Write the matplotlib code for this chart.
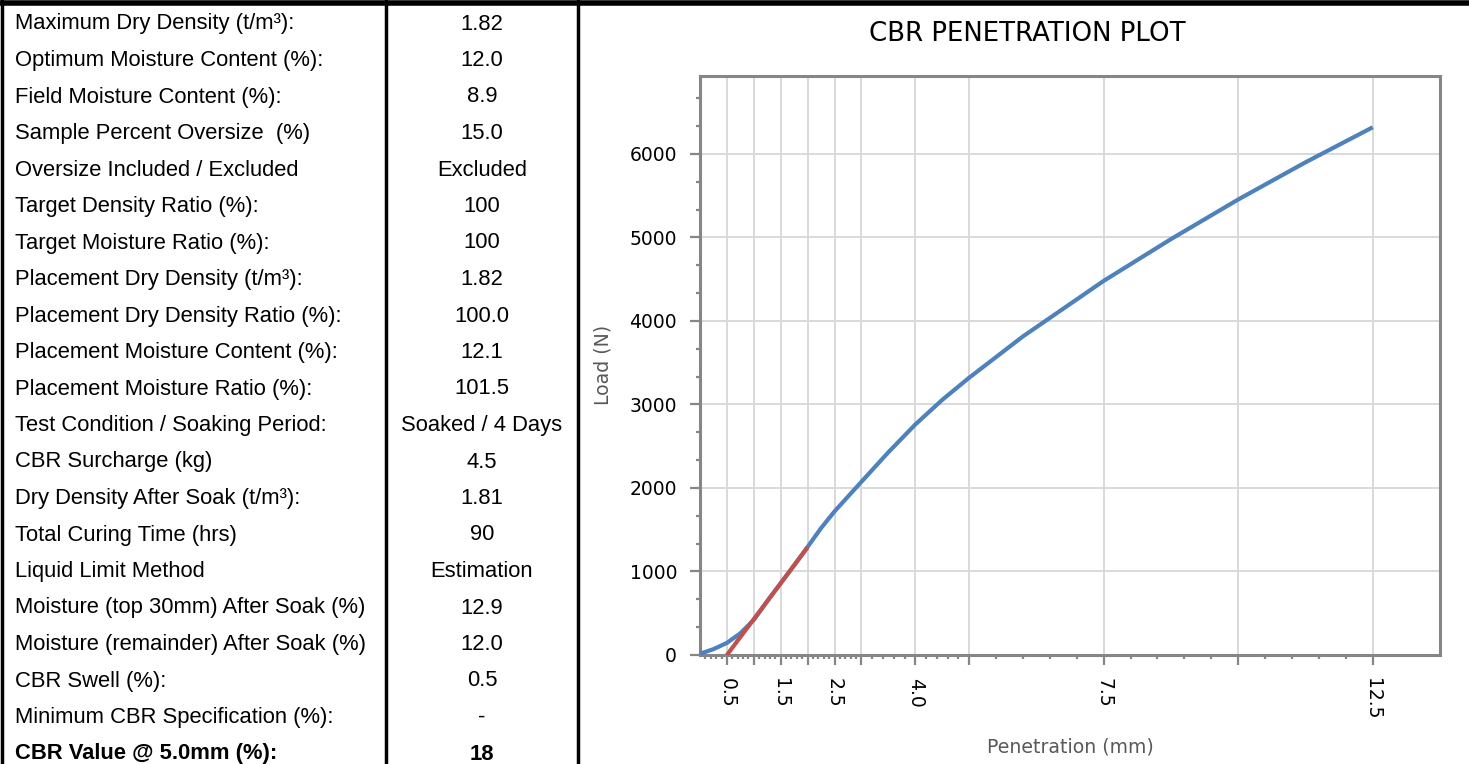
import numpy as np
import matplotlib
matplotlib.use('Agg')
import matplotlib.pyplot as plt
from matplotlib.lines import Line2D
from matplotlib.ticker import FixedLocator, FixedFormatter

# ==========================================
# DATOS
# ==========================================
row_labels = [
    "Maximum Dry Density (t/m³):",
    "Optimum Moisture Content (%):",
    "Field Moisture Content (%):",
    "Sample Percent Oversize  (%)",
    "Oversize Included / Excluded",
    "Target Density Ratio (%):",
    "Target Moisture Ratio (%):",
    "Placement Dry Density (t/m³):",
    "Placement Dry Density Ratio (%):",
    "Placement Moisture Content (%):",
    "Placement Moisture Ratio (%):",
    "Test Condition / Soaking Period:",
    "CBR Surcharge (kg)",
    "Dry Density After Soak (t/m³):",
    "Total Curing Time (hrs)",
    "Liquid Limit Method",
    "Moisture (top 30mm) After Soak (%)",
    "Moisture (remainder) After Soak (%)",
    "CBR Swell (%):",
    "Minimum CBR Specification (%):",
    "CBR Value @ 5.0mm (%):",
]
row_values = [
    "1.82", "12.0", "8.9", "15.0", "Excluded", "100", "100", "1.82", "100.0",
    "12.1", "101.5", "Soaked / 4 Days", "4.5", "1.81", "90", "Estimation",
    "12.9", "12.0", "0.5", "-", "18",
]

penetration = [0.0, 0.25, 0.5, 0.75, 1.0, 1.25, 1.5, 1.75, 2.0, 2.25, 2.5,
               3.0, 3.5, 4.0, 4.5, 5.0, 6.0, 7.5, 8.75, 10.0, 11.25, 12.5]
load = [15, 70, 145, 260, 420, 645, 860, 1075, 1295, 1520, 1720,
        2075, 2428, 2760, 3055, 3320, 3815, 4480, 4980, 5455, 5900, 6320]

# Línea de corrección (tangente)
corr_pen = [0.5, 2.0]
corr_load = [0, 1290]

major_x = [0.5, 1.0, 1.5, 2.0, 2.5, 3.0, 4.0, 5.0, 7.5, 10.0, 12.5]
x_labels = ["0.5", "", "1.5", "", "2.5", "", "4.0", "", "7.5", "", "12.5"]

# ==========================================
# FIGURA
# ==========================================
W, H = 1469, 764
fig = plt.figure(figsize=(W / 100, H / 100), dpi=100)

def fx(px):
    return px / W

def fy(py):
    return 1 - py / H

# Tabla de la izquierda
row_h = 36.5
for i, (lab, val) in enumerate(zip(row_labels, row_values)):
    yc = 24 + i * row_h
    weight = 'bold' if i == len(row_labels) - 1 else 'normal'
    fig.text(fx(15), fy(yc), lab, ha='left', va='center', fontsize=15.8,
             family='Liberation Sans', fontweight=weight)
    fig.text(fx(482), fy(yc), val, ha='center', va='center', fontsize=15.8,
             family='Liberation Sans', fontweight=weight)

for x in [2, 386, 578]:
    fig.add_artist(Line2D([fx(x), fx(x)], [fy(0), fy(H)], color='black', lw=2.5,
                          transform=fig.transFigure))
fig.add_artist(Line2D([0, 1], [fy(2.5), fy(2.5)], color='black', lw=4,
                      transform=fig.transFigure))

# Gráfico
ax = fig.add_axes([fx(700), fy(655), fx(1440) - fx(700), fy(75.5) - fy(655)])
ax.plot(penetration, load, color='#4f81bd', lw=3, solid_capstyle='butt',
        solid_joinstyle='round', zorder=3)
ax.plot(corr_pen, corr_load, color='#c0504d', lw=3, solid_capstyle='butt', zorder=4)

ax.set_xlim(0, 13.75)
ax.set_ylim(0, 6940)

minor_x = [round(v, 2) for v in np.arange(0.1, 3.0, 0.1)] + \
          [round(v, 2) for v in np.arange(3.2, 5.0, 0.2)] + \
          [round(v, 2) for v in np.arange(5.5, 12.6, 0.5)]
minor_x = [v for v in minor_x if v not in major_x]
ax.xaxis.set_major_locator(FixedLocator(major_x))
ax.xaxis.set_major_formatter(FixedFormatter(x_labels))
ax.xaxis.set_minor_locator(FixedLocator(minor_x))

ax.set_yticks(np.arange(0, 6001, 1000))
ax.yaxis.set_minor_locator(FixedLocator(
    [v for v in np.arange(0, 6940, 1000 / 3) if round(v) % 1000 != 0]))

ax.grid(True, which='major', color='#d9d9d9', lw=1.4, zorder=0)
ax.set_axisbelow(True)
for s in ax.spines.values():
    s.set_color('#868686')
    s.set_linewidth(2.2)

ax.tick_params(which='major', length=7.5, width=1.6, color='#868686', pad=9,
               labelsize=13.5, labelcolor='black')
ax.tick_params(which='minor', length=3, width=1.6, color='#868686')
ax.tick_params(axis='x', labelrotation=-90)

ax.set_xlabel("Penetration (mm)", fontsize=13.6, color='#595959', labelpad=13)
ax.set_ylabel("Load (N)", fontsize=13.6, color='#595959', labelpad=12)

fig.text(fx(1027), fy(34), "CBR PENETRATION PLOT", ha='center', va='center',
         fontsize=18.7, color='black')

plt.savefig('out.png', dpi=100)
plt.close()
